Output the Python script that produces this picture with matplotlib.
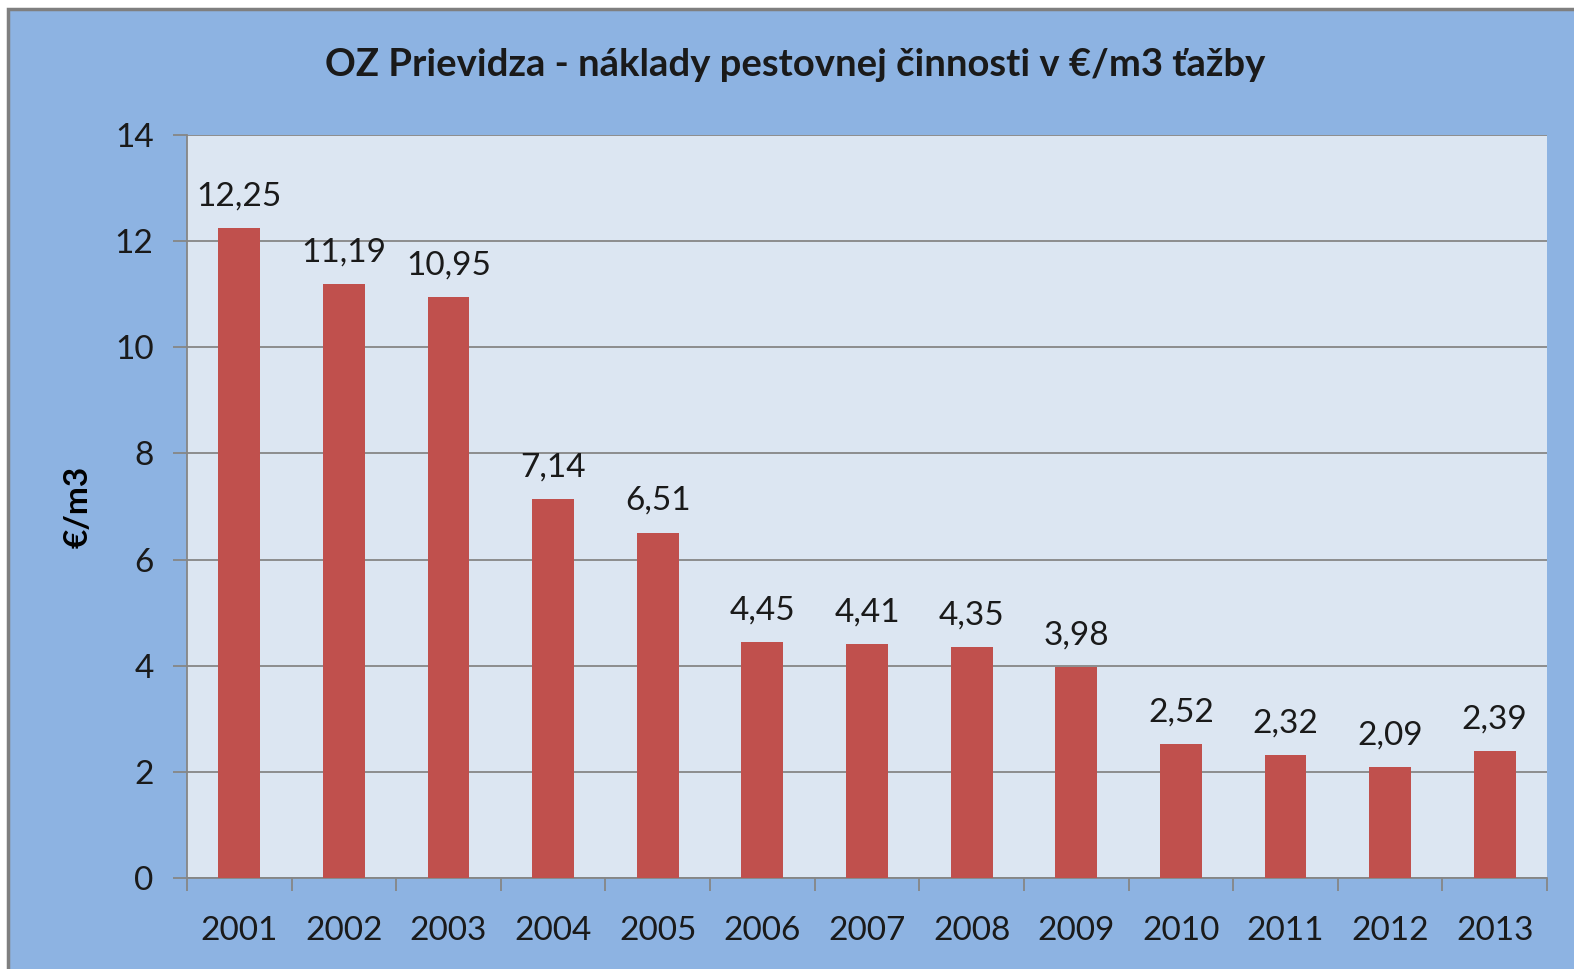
import numpy as np
import matplotlib.pyplot as plt
from matplotlib.patches import Rectangle

## Data
years = ['2001', '2002', '2003', '2004', '2005', '2006', '2007',
         '2008', '2009', '2010', '2011', '2012', '2013']
costs = [12.25, 11.19, 10.95, 7.14, 6.51, 4.45, 4.41, 4.35, 3.98, 2.52, 2.32, 2.09, 2.39]
labels = ['12,25', '11,19', '10,95', '7,14', '6,51', '4,45', '4,41',
          '4,35', '3,98', '2,52', '2,32', '2,09', '2,39']

plt.rcParams['font.family'] = ['Lato', 'DejaVu Sans']

W, H = 1574, 969
fig = plt.figure(figsize=(W / 100, H / 100), dpi=100, facecolor='white')

# chart area background with grey border (cropped at right/bottom)
fig.patches.append(Rectangle((8 / W, -0.05), 1.1, (H - 9) / H + 0.05,
                             transform=fig.transFigure, facecolor='#8DB3E2',
                             edgecolor='#7F7F7F', linewidth=2.5, zorder=-10))

ax = fig.add_axes([187 / W, 1 - 878 / H, (1547 - 187) / W, (878 - 135) / H])
ax.set_facecolor('#DCE6F2')

x = np.arange(len(years))
ax.bar(x, costs, width=0.4, color='#C0504D', zorder=3)

for xi, v, s in zip(x, costs, labels):
    ax.annotate(s, (xi, v), xytext=(0, 12), textcoords='offset points',
                ha='center', va='bottom', fontsize=24, color='#1A1A1A')

ax.set_xlim(-0.5, len(years) - 0.5)
ax.set_ylim(0, 14)
ax.set_yticks(np.arange(0, 15, 2))
ax.yaxis.grid(True, color='#868686', linewidth=1.3, zorder=1)
ax.set_axisbelow(True)

ax.set_xticks(x)
ax.set_xticklabels(years)
ax.set_xticks(np.arange(-0.5, len(years)), minor=True)
ax.tick_params(axis='x', which='major', length=0, pad=27, labelsize=24, labelcolor='#1A1A1A')
ax.tick_params(axis='x', which='minor', length=9, width=1.3, color='#868686')
ax.tick_params(axis='y', length=10, width=1.3, color='#868686', pad=14,
               labelsize=24, labelcolor='#1A1A1A')

for side in ['top', 'right']:
    ax.spines[side].set_visible(False)
for side in ['left', 'bottom']:
    ax.spines[side].set_color('#868686')
    ax.spines[side].set_linewidth(1.3)

ax.set_ylabel('€/m3', fontsize=24, fontweight='bold', labelpad=16)

fig.text(795 / W, 1 - 65 / H, 'OZ Prievidza - náklady pestovnej činnosti v €/m3 ťažby',
         ha='center', va='center', fontsize=27.5, fontweight='bold', color='#1A1A1A')

plt.savefig('out.png', dpi=100, facecolor=fig.get_facecolor())
